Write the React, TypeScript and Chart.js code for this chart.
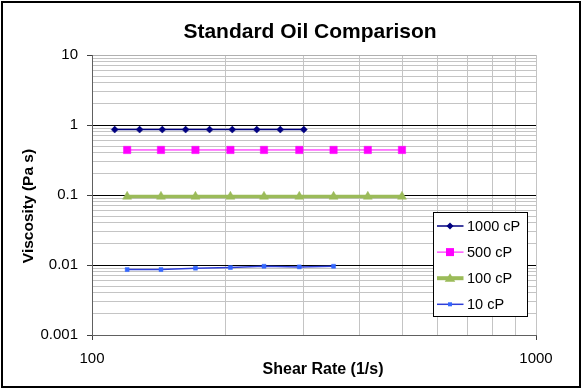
import React, { useEffect, useRef } from 'react';
import { Chart, registerables } from 'chart.js';

Chart.register(...registerables);

const chartTitle = 'Standard Oil Comparison';
const xAxisTitle = 'Shear Rate (1/s)';
const yAxisTitle = 'Viscosity (Pa s)';

const seriesNames = ['1000 cP', '500 cP', '100 cP', '10 cP'];

const shearRate1000 = [112.5, 128, 144, 162.5, 184, 207, 235, 265.5, 300];
const viscosity1000 = [0.86, 0.86, 0.86, 0.86, 0.86, 0.86, 0.86, 0.86, 0.86];

const shearRate500 = [120, 143, 171, 205, 244, 293, 350, 418, 499];
const viscosity500 = [0.44, 0.44, 0.44, 0.44, 0.44, 0.44, 0.44, 0.44, 0.44];

const shearRate100 = [120, 143, 171, 205, 244, 293, 350, 418, 499];
const viscosity100 = [0.095, 0.095, 0.095, 0.095, 0.095, 0.095, 0.095, 0.095, 0.095];

const shearRate10 = [120, 143, 171, 205, 244, 293, 350];
const viscosity10 = [0.0086, 0.0086, 0.009, 0.0092, 0.0096, 0.0094, 0.0096];

const xTickValues = [100, 200, 300, 400, 500, 600, 700, 800, 900, 1000];
const xMajorTicks = [100, 1000];
const xMajorLabels = ['100', '1000'];

const yMajorTicks = [0.001, 0.01, 0.1, 1, 10];
const yMajorLabels = ['0.001', '0.01', '0.1', '1', '10'];
const yMinorMultipliers = [2, 3, 4, 5, 6, 7, 8, 9];

const FONT = '"Liberation Sans", Arial, sans-serif';

const near = (a: number, b: number) => Math.abs(Math.log10(a) - Math.log10(b)) < 1e-6;
const majorIndex = (list: number[], v: number) => list.findIndex((m) => near(m, v));

const yTickValues: number[] = (() => {
  const out: number[] = [];
  for (let i = 0; i < yMajorTicks.length; i++) {
    out.push(yMajorTicks[i]);
    if (i < yMajorTicks.length - 1) {
      for (const m of yMinorMultipliers) out.push(+(yMajorTicks[i] * m).toPrecision(6));
    }
  }
  return out;
})();

const pts = (xs: number[], ys: number[]) => xs.map((x, i) => ({ x, y: ys[i] }));

function drawMarker(ctx: CanvasRenderingContext2D, style: string, x: number, y: number, r: number, color: string) {
  ctx.fillStyle = color;
  ctx.beginPath();
  if (style === 'rectRot') {
    ctx.moveTo(x, y - r);
    ctx.lineTo(x + r, y);
    ctx.lineTo(x, y + r);
    ctx.lineTo(x - r, y);
  } else if (style === 'rect') {
    ctx.rect(x - r, y - r, 2 * r, 2 * r);
  } else if (style === 'triangle') {
    ctx.moveTo(x, y - r);
    ctx.lineTo(x + r * 1.05, y + r * 0.7);
    ctx.lineTo(x - r * 1.05, y + r * 0.7);
  }
  ctx.closePath();
  ctx.fill();
}

const legendMarkers = [
  { style: 'rectRot', r: 3.5, lineWidth: 1.5 },
  { style: 'rect', r: 4, lineWidth: 1 },
  { style: 'triangle', r: 5, lineWidth: 4 },
  { style: 'rect', r: 2, lineWidth: 1.5 },
];

const decorPlugin = {
  id: 'decor',
  beforeDraw(chart: any) {
    const ctx = chart.ctx as CanvasRenderingContext2D;
    ctx.save();
    ctx.fillStyle = '#ffffff';
    ctx.fillRect(0, 0, chart.width, chart.height);
    ctx.restore();
  },
  afterDraw(chart: any) {
    const ctx = chart.ctx as CanvasRenderingContext2D;
    const area = chart.chartArea;
    ctx.save();
    // outer border
    ctx.strokeStyle = '#000000';
    ctx.lineWidth = 2;
    ctx.strokeRect(2, 2, 578, 385);

    // title
    ctx.fillStyle = '#000000';
    ctx.font = `bold 21px ${FONT}`;
    ctx.textAlign = 'center';
    ctx.textBaseline = 'alphabetic';
    ctx.fillText(chartTitle, (area.left + area.right) / 2 - 4, 37.5);

    // x axis title
    ctx.font = `bold 16px ${FONT}`;
    ctx.textBaseline = 'middle';
    ctx.fillText(xAxisTitle, (area.left + area.right) / 2 + 9, 370);

    // y axis title
    ctx.save();
    ctx.translate(28.5, (area.top + area.bottom) / 2 + 11);
    ctx.rotate(-Math.PI / 2);
    ctx.font = `bold 15.5px ${FONT}`;
    ctx.fillText(yAxisTitle, 0, 0);
    ctx.restore();

    // legend
    const lx = 433.5, ly = 212.5, lw = 94, lh = 104;
    ctx.fillStyle = '#ffffff';
    ctx.fillRect(lx, ly, lw, lh);
    ctx.strokeStyle = '#000000';
    ctx.lineWidth = 1;
    ctx.strokeRect(lx, ly, lw, lh);
    const datasets = chart.data.datasets;
    ctx.font = `14.5px ${FONT}`;
    ctx.textAlign = 'left';
    ctx.textBaseline = 'middle';
    datasets.forEach((ds: any, i: number) => {
      const y = 226 + i * 26.1;
      const m = legendMarkers[i];
      ctx.strokeStyle = ds.borderColor;
      ctx.lineWidth = m.lineWidth;
      ctx.beginPath();
      ctx.moveTo(437, y);
      ctx.lineTo(463.5, y);
      ctx.stroke();
      drawMarker(ctx, m.style, 450, y, m.r, ds.pointBackgroundColor);
      ctx.fillStyle = '#000000';
      ctx.fillText(ds.label, 467, y + 0.5);
    });
    ctx.restore();
  },
};

export default function App() {
  const canvasRef = useRef<HTMLCanvasElement | null>(null);

  useEffect(() => {
    const canvas = canvasRef.current;
    if (!canvas) return;
    const chart = new Chart(canvas, {
      type: 'line',
      data: {
        datasets: [
          {
            label: seriesNames[0],
            data: pts(shearRate1000, viscosity1000),
            borderColor: '#000080',
            backgroundColor: '#000080',
            borderWidth: 1.5,
            pointStyle: 'rectRot',
            pointRadius: 3.5,
            pointBackgroundColor: '#000080',
            pointBorderColor: '#000080',
            pointBorderWidth: 0.5,
          },
          {
            label: seriesNames[1],
            data: pts(shearRate500, viscosity500),
            borderColor: '#FF00FF',
            backgroundColor: '#FF00FF',
            borderWidth: 1,
            pointStyle: 'rect',
            pointRadius: 5.2,
            pointBackgroundColor: '#FF00FF',
            pointBorderColor: '#FF00FF',
            pointBorderWidth: 0.5,
          },
          {
            label: seriesNames[2],
            data: pts(shearRate100, viscosity100),
            borderColor: '#9BBB59',
            backgroundColor: '#9BBB59',
            borderWidth: 3.5,
            pointStyle: 'triangle',
            pointRadius: 5.2,
            pointBackgroundColor: '#9BBB59',
            pointBorderColor: '#9BBB59',
            pointBorderWidth: 0.5,
          },
          {
            label: seriesNames[3],
            data: pts(shearRate10, viscosity10),
            borderColor: '#2f3fd8',
            backgroundColor: '#3366FF',
            borderWidth: 1.5,
            pointStyle: 'rect',
            pointRadius: 2.8,
            pointBackgroundColor: '#3366FF',
            pointBorderColor: '#3366FF',
            pointBorderWidth: 0.5,
          },
        ],
      },
      options: {
        responsive: false,
        animation: false,
        events: [],
        layout: { padding: { top: 55, right: 50, left: 0, bottom: 0 } },
        elements: { line: { tension: 0 } },
        plugins: {
          legend: { display: false },
          title: { display: false },
          tooltip: { enabled: false },
        },
        scales: {
          x: {
            type: 'logarithmic',
            min: 100,
            max: 1000,
            afterBuildTicks: (scale: any) => {
              scale.ticks = xTickValues.map((v) => ({ value: v }));
            },
            afterFit: (scale: any) => {
              scale.height = 56;
            },
            ticks: {
              autoSkip: false,
              maxRotation: 0,
              padding: 10,
              color: '#000000',
              font: { family: FONT, size: 15 },
              callback: (value: any) => {
                const i = majorIndex(xMajorTicks, Number(value));
                return i >= 0 ? xMajorLabels[i] : '';
              },
            },
            grid: {
              drawTicks: true,
              tickLength: 5,
              lineWidth: 1,
              color: () => '#c4c4c4',
              tickColor: (c: any) =>
                c.tick && majorIndex(xMajorTicks, c.tick.value) >= 0 ? '#404040' : 'rgba(0,0,0,0)',
            },
            border: { display: true, color: '#606060', width: 1 },
            title: { display: false },
          },
          y: {
            type: 'logarithmic',
            min: 0.001,
            max: 10,
            afterBuildTicks: (scale: any) => {
              scale.ticks = yTickValues.map((v) => ({ value: v }));
            },
            afterFit: (scale: any) => {
              scale.width = 92;
            },
            ticks: {
              autoSkip: false,
              padding: 9,
              color: '#000000',
              font: { family: FONT, size: 15 },
              callback: (value: any) => {
                const i = majorIndex(yMajorTicks, Number(value));
                return i >= 0 ? yMajorLabels[i] : '';
              },
            },
            grid: {
              drawTicks: true,
              tickLength: 5,
              lineWidth: 1,
              color: (c: any) => {
                if (!c.tick) return '#c4c4c4';
                const i = majorIndex(yMajorTicks, c.tick.value);
                if (i < 0) return '#c4c4c4';
                if (i === yMajorTicks.length - 1) return '#b0b0b0';
                if (i === 0) return '#606060';
                return '#000000';
              },
              tickColor: (c: any) =>
                c.tick && majorIndex(yMajorTicks, c.tick.value) >= 0 ? '#404040' : 'rgba(0,0,0,0)',
            },
            border: { display: true, color: '#606060', width: 1 },
            title: { display: false },
          },
        },
      } as any,
      plugins: [decorPlugin],
    });
    return () => chart.destroy();
  }, []);

  return (
    <div style={{ position: 'fixed', left: 0, top: 0, width: 586, height: 391, background: '#ffffff' }}>
      <canvas ref={canvasRef} width={586} height={391} style={{ display: 'block' }} />
    </div>
  );
}
